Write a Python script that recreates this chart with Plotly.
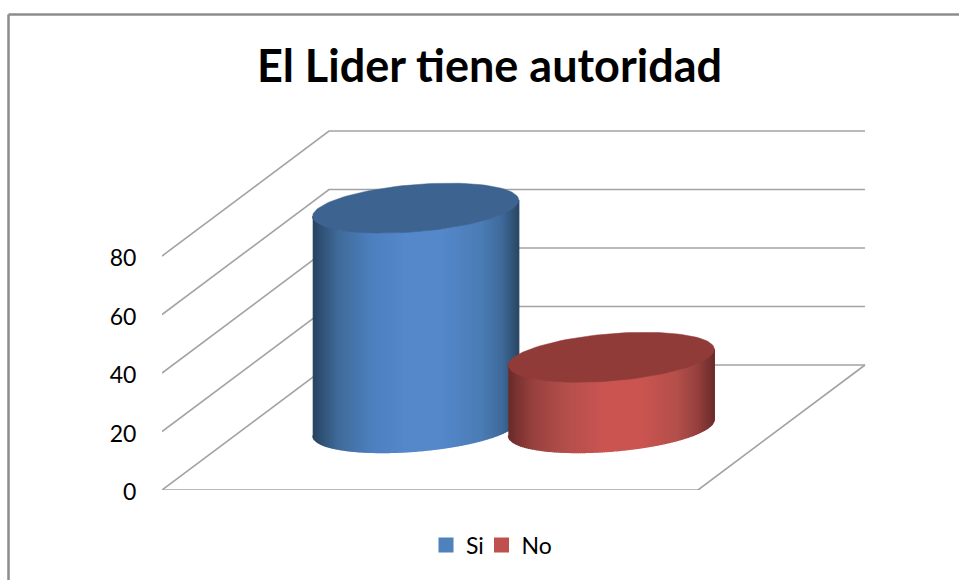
import numpy as np
import plotly.graph_objects as go

# ---- data ----
title = "El Lider tiene autoridad"
series = ["Si", "No"]
values = [75, 24]
ticks = [0, 20, 40, 60, 80]

# ---- styles ----
legend_colors = ["#4F81BD", "#C0504D"]
top_colors = ["#3D6390", "#913B38"]
side_stops = [
    [(0, "#27435F"), (0.04, "#2F5073"), (0.12, "#3F6A98"), (0.28, "#4C7FBE"), (0.45, "#5488CB"), (0.62, "#5488CB"),
     (0.82, "#4B7CB5"), (0.92, "#3F6A9A"), (1, "#2A4663")],
    [(0, "#682B29"), (0.04, "#7A3331"), (0.12, "#98413E"), (0.28, "#B44F4B"), (0.47, "#CB5552"), (0.64, "#CB5552"),
     (0.82, "#B44F4B"), (0.92, "#96403D"), (1, "#692C2A")],
]
grid_color = "#A3A3A3"
frame_color = "#8C8C8C"
font = "Lato"

# ---- pixel layout ----
W, H = 959, 580
PL, PB = 162, 90            # plot area starts at the axis origin
PPX = 268.0                 # px per x unit (two units wide floor)
PPY = 2.925                 # px per value unit
DEPTH_X = 167.0 / PPX       # oblique shift of the full depth, x units
DEPTH_Y = 125.0 / PPY       # oblique shift of the full depth, value units
RADIUS_X = 0.3635
RADIUS_D = 0.20
CENTER_D = 0.5
FLOOR_W = 2.0


def project(x, v, d):
    return x + d * DEPTH_X, v + d * DEPTH_Y


def hexrgb(c):
    return np.array([int(c[i:i + 2], 16) for i in (1, 3, 5)], float)


def ramp(stops, f):
    ps = [s[0] for s in stops]
    cs = np.array([hexrgb(s[1]) for s in stops])
    r = [np.interp(f, ps, cs[:, k]) for k in range(3)]
    return "rgb(%d,%d,%d)" % tuple(round(a) for a in r)


fig = go.Figure()


def line(xs, ys):
    fig.add_trace(go.Scatter(x=xs, y=ys, mode="lines", showlegend=False, hoverinfo="skip", cliponaxis=False,
                             line=dict(color=grid_color, width=1.6)))


# walls and floor, one set of lines per tick
for t in ticks:
    x0, y0 = project(0, t, 0)
    x1, y1 = project(0, t, 1)
    x2, y2 = project(FLOOR_W, t, 1)
    line([x0, x1, x2], [y0, y1, y2])
fx, fy = project(FLOOR_W, ticks[0], 0)
bx, by = project(FLOOR_W, ticks[0], 1)
ox, oy = project(0, ticks[0], 0)
line([ox, fx, bx], [oy, fy, by])

# cylinders
a = RADIUS_X * PPX
b = RADIUS_D * DEPTH_X * PPX
t0 = np.arctan2(b, a)
n_cat = len(values)
centers = [1 + (i - (n_cat - 1) / 2) * 2 * RADIUS_X * 1.004 for i in range(n_cat)]


def rim(cx, v, theta):
    x, y = project(cx + RADIUS_X * np.cos(theta), v, CENTER_D + RADIUS_D * np.sin(theta))
    return x, y


for i, (name, val) in enumerate(zip(series, values)):
    cx = centers[i]
    fr = np.linspace(-1, 1, 104)       # left to right, so each strip overlaps the one before it
    phi = -np.arccos(fr)
    for k in range(len(fr) - 1):
        th = np.linspace(phi[k], phi[k + 1], 4) + t0
        xb, yb = rim(cx, 0, th)
        xt, yt = rim(cx, val, th[::-1])
        col = ramp(side_stops[i], (fr[k] + fr[k + 1] + 2) / 4)
        fig.add_trace(go.Scatter(x=np.r_[xb, xt], y=np.r_[yb, yt], mode="lines", fill="toself", fillcolor=col,
                                 line=dict(color=col, width=1.4), showlegend=False, hoverinfo="skip",
                                 cliponaxis=False))
    th = np.linspace(0, 2 * np.pi, 121)
    xt, yt = rim(cx, val, th)
    fig.add_trace(go.Scatter(x=xt, y=yt, mode="lines", fill="toself", fillcolor=top_colors[i],
                             line=dict(color=top_colors[i], width=0.5), showlegend=False, hoverinfo="skip",
                             cliponaxis=False))

# legend entries, one legend box per series so each can sit at its own place
legend_ids = ["legend", "legend2"]
legend_left = [426, 481.5]
for name, col, lid in zip(series, legend_colors, legend_ids):
    fig.add_trace(go.Scatter(x=[None], y=[None], mode="markers", name=name, legend=lid,
                             marker=dict(symbol="square", size=15, color=col)))

# chart frame, running off the page on the right and at the bottom
plot_w, plot_h = W - PL, H - PB
fl = (8.5 - PL) / plot_w
ft = (H - PB - 14.5) / plot_h
shapes = [
    dict(type="line", xref="paper", yref="paper", x0=fl, x1=1, y0=ft, y1=ft,
         line=dict(color=frame_color, width=2.5)),
    dict(type="line", xref="paper", yref="paper", x0=fl, x1=fl, y0=ft, y1=-PB / plot_h,
         line=dict(color=frame_color, width=2.5)),
]


def legend_box(left):
    return dict(orientation="h", x=(left - PL) / plot_w, xanchor="left", y=-(545 - 490) / plot_h, yanchor="middle",
                font=dict(family=font, size=23), itemsizing="trace", bgcolor="rgba(0,0,0,0)")


fig.update_layout(
    width=W, height=H,
    margin=dict(l=PL, r=0, t=0, b=PB, pad=0),
    paper_bgcolor="white", plot_bgcolor="white",
    font=dict(family=font, color="#000000", size=23),
    title=dict(text="<b>%s</b>" % title, font=dict(family=font, size=45, color="#000000"),
               x=489.5 / W, xanchor="center", y=1 - 66 / H, yanchor="middle"),
    showlegend=True,
    legend=legend_box(legend_left[0]),
    legend2=legend_box(legend_left[1]),
    xaxis=dict(range=[0, plot_w / PPX], visible=False, fixedrange=True),
    yaxis=dict(range=[0, plot_h / PPY], tickmode="array", tickvals=ticks, ticktext=[str(t) for t in ticks],
               ticks="outside", ticklen=20, tickcolor="rgba(0,0,0,0)", showgrid=False, zeroline=False,
               showline=False, fixedrange=True, ticklabelshift=2,
               tickfont=dict(family=font, size=23, color="#000000")),
    shapes=shapes,
    hovermode=False,
)

fig.write_html("out.html", config=dict(displayModeBar=False),
               post_script="document.body.style.margin='0';")
